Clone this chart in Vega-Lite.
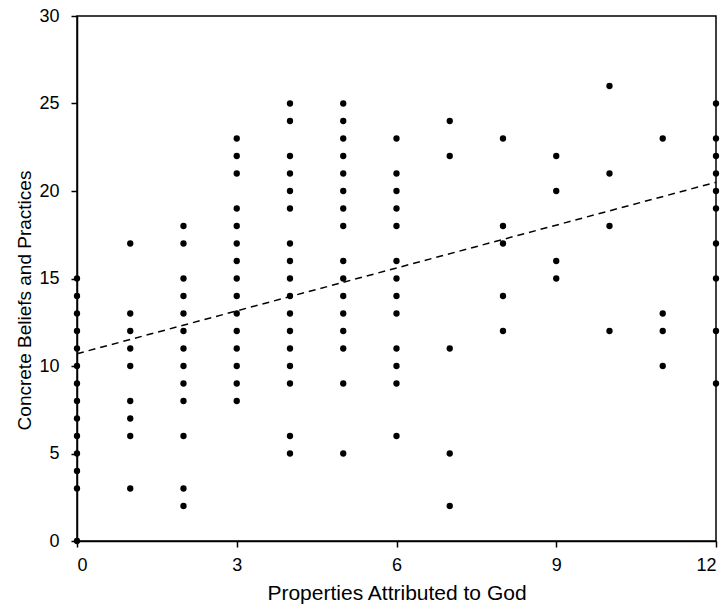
{
  "$schema": "https://vega.github.io/schema/vega-lite/v6.json",
  "autosize": {"type": "none"},
  "width": 639,
  "height": 525,
  "padding": {"left": 77, "top": 16, "right": 12, "bottom": 64},
  "background": "white",
  "config": {
    "view": {"stroke": "black", "strokeWidth": 1.5},
    "axis": {
      "grid": false,
      "domainColor": "black",
      "domainWidth": 1.5,
      "tickColor": "black",
      "tickWidth": 1.5,
      "tickSize": 6,
      "labelColor": "black",
      "labelFont": "Liberation Sans",
      "labelFontSize": 18,
      "titleFont": "Liberation Sans",
      "titleFontWeight": "normal",
      "titleColor": "black"
    }
  },
  "datasets": {
    "pts": [
      {"p": 0, "c": 15}, {"p": 0, "c": 14}, {"p": 0, "c": 13}, {"p": 0, "c": 12}, {"p": 0, "c": 11}, {"p": 0, "c": 10}, {"p": 0, "c": 9}, {"p": 0, "c": 8}, {"p": 0, "c": 7}, {"p": 0, "c": 6}, {"p": 0, "c": 5}, {"p": 0, "c": 4}, {"p": 0, "c": 3}, {"p": 0, "c": 0},
      {"p": 1, "c": 17}, {"p": 1, "c": 13}, {"p": 1, "c": 12}, {"p": 1, "c": 11}, {"p": 1, "c": 10}, {"p": 1, "c": 8}, {"p": 1, "c": 7}, {"p": 1, "c": 6}, {"p": 1, "c": 3},
      {"p": 2, "c": 18}, {"p": 2, "c": 17}, {"p": 2, "c": 15}, {"p": 2, "c": 14}, {"p": 2, "c": 13}, {"p": 2, "c": 12}, {"p": 2, "c": 11}, {"p": 2, "c": 10}, {"p": 2, "c": 9}, {"p": 2, "c": 8}, {"p": 2, "c": 6}, {"p": 2, "c": 3}, {"p": 2, "c": 2},
      {"p": 3, "c": 23}, {"p": 3, "c": 22}, {"p": 3, "c": 21}, {"p": 3, "c": 19}, {"p": 3, "c": 18}, {"p": 3, "c": 17}, {"p": 3, "c": 16}, {"p": 3, "c": 15}, {"p": 3, "c": 14}, {"p": 3, "c": 13}, {"p": 3, "c": 12}, {"p": 3, "c": 11}, {"p": 3, "c": 10}, {"p": 3, "c": 9}, {"p": 3, "c": 8},
      {"p": 4, "c": 25}, {"p": 4, "c": 24}, {"p": 4, "c": 22}, {"p": 4, "c": 21}, {"p": 4, "c": 20}, {"p": 4, "c": 19}, {"p": 4, "c": 17}, {"p": 4, "c": 16}, {"p": 4, "c": 15}, {"p": 4, "c": 14}, {"p": 4, "c": 13}, {"p": 4, "c": 12}, {"p": 4, "c": 11}, {"p": 4, "c": 10}, {"p": 4, "c": 9}, {"p": 4, "c": 6}, {"p": 4, "c": 5},
      {"p": 5, "c": 25}, {"p": 5, "c": 24}, {"p": 5, "c": 23}, {"p": 5, "c": 22}, {"p": 5, "c": 21}, {"p": 5, "c": 20}, {"p": 5, "c": 19}, {"p": 5, "c": 18}, {"p": 5, "c": 16}, {"p": 5, "c": 15}, {"p": 5, "c": 14}, {"p": 5, "c": 13}, {"p": 5, "c": 12}, {"p": 5, "c": 11}, {"p": 5, "c": 9}, {"p": 5, "c": 5},
      {"p": 6, "c": 23}, {"p": 6, "c": 21}, {"p": 6, "c": 20}, {"p": 6, "c": 19}, {"p": 6, "c": 18}, {"p": 6, "c": 16}, {"p": 6, "c": 15}, {"p": 6, "c": 14}, {"p": 6, "c": 13}, {"p": 6, "c": 11}, {"p": 6, "c": 10}, {"p": 6, "c": 9}, {"p": 6, "c": 6},
      {"p": 7, "c": 24}, {"p": 7, "c": 22}, {"p": 7, "c": 11}, {"p": 7, "c": 5}, {"p": 7, "c": 2},
      {"p": 8, "c": 23}, {"p": 8, "c": 18}, {"p": 8, "c": 17}, {"p": 8, "c": 14}, {"p": 8, "c": 12},
      {"p": 9, "c": 22}, {"p": 9, "c": 20}, {"p": 9, "c": 16}, {"p": 9, "c": 15},
      {"p": 10, "c": 26}, {"p": 10, "c": 21}, {"p": 10, "c": 18}, {"p": 10, "c": 12},
      {"p": 11, "c": 23}, {"p": 11, "c": 13}, {"p": 11, "c": 12}, {"p": 11, "c": 10},
      {"p": 12, "c": 25}, {"p": 12, "c": 23}, {"p": 12, "c": 22}, {"p": 12, "c": 21}, {"p": 12, "c": 20}, {"p": 12, "c": 19}, {"p": 12, "c": 17}, {"p": 12, "c": 15}, {"p": 12, "c": 12}, {"p": 12, "c": 9}
    ],
    "trend": [
      {"p": 0, "c": 10.7},
      {"p": 12, "c": 20.5}
    ]
  },
  "layer": [
    {
      "data": {"name": "trend"},
      "mark": {"type": "line", "color": "black", "strokeWidth": 1.5, "strokeDash": [7, 5]},
      "encoding": {
        "x": {"field": "p", "type": "quantitative"},
        "y": {"field": "c", "type": "quantitative"}
      }
    },
    {
      "data": {"name": "pts"},
      "mark": {"type": "circle", "color": "black", "opacity": 1, "size": 40},
      "encoding": {
        "x": {
          "field": "p", "type": "quantitative",
          "scale": {"domain": [0, 12], "nice": false},
          "axis": {"values": [0, 3, 6, 9, 12], "title": "Properties Attributed to God", "labelPadding": 9, "titleFontSize": 21, "titlePadding": 8}
        },
        "y": {
          "field": "c", "type": "quantitative",
          "scale": {"domain": [0, 30], "nice": false},
          "axis": {"values": [0, 5, 10, 15, 20, 25, 30], "title": "Concrete Beliefs and Practices", "labelPadding": 12, "titleFontSize": 19, "titlePadding": 4, "titleY": 284}
        }
      }
    }
  ]
}
